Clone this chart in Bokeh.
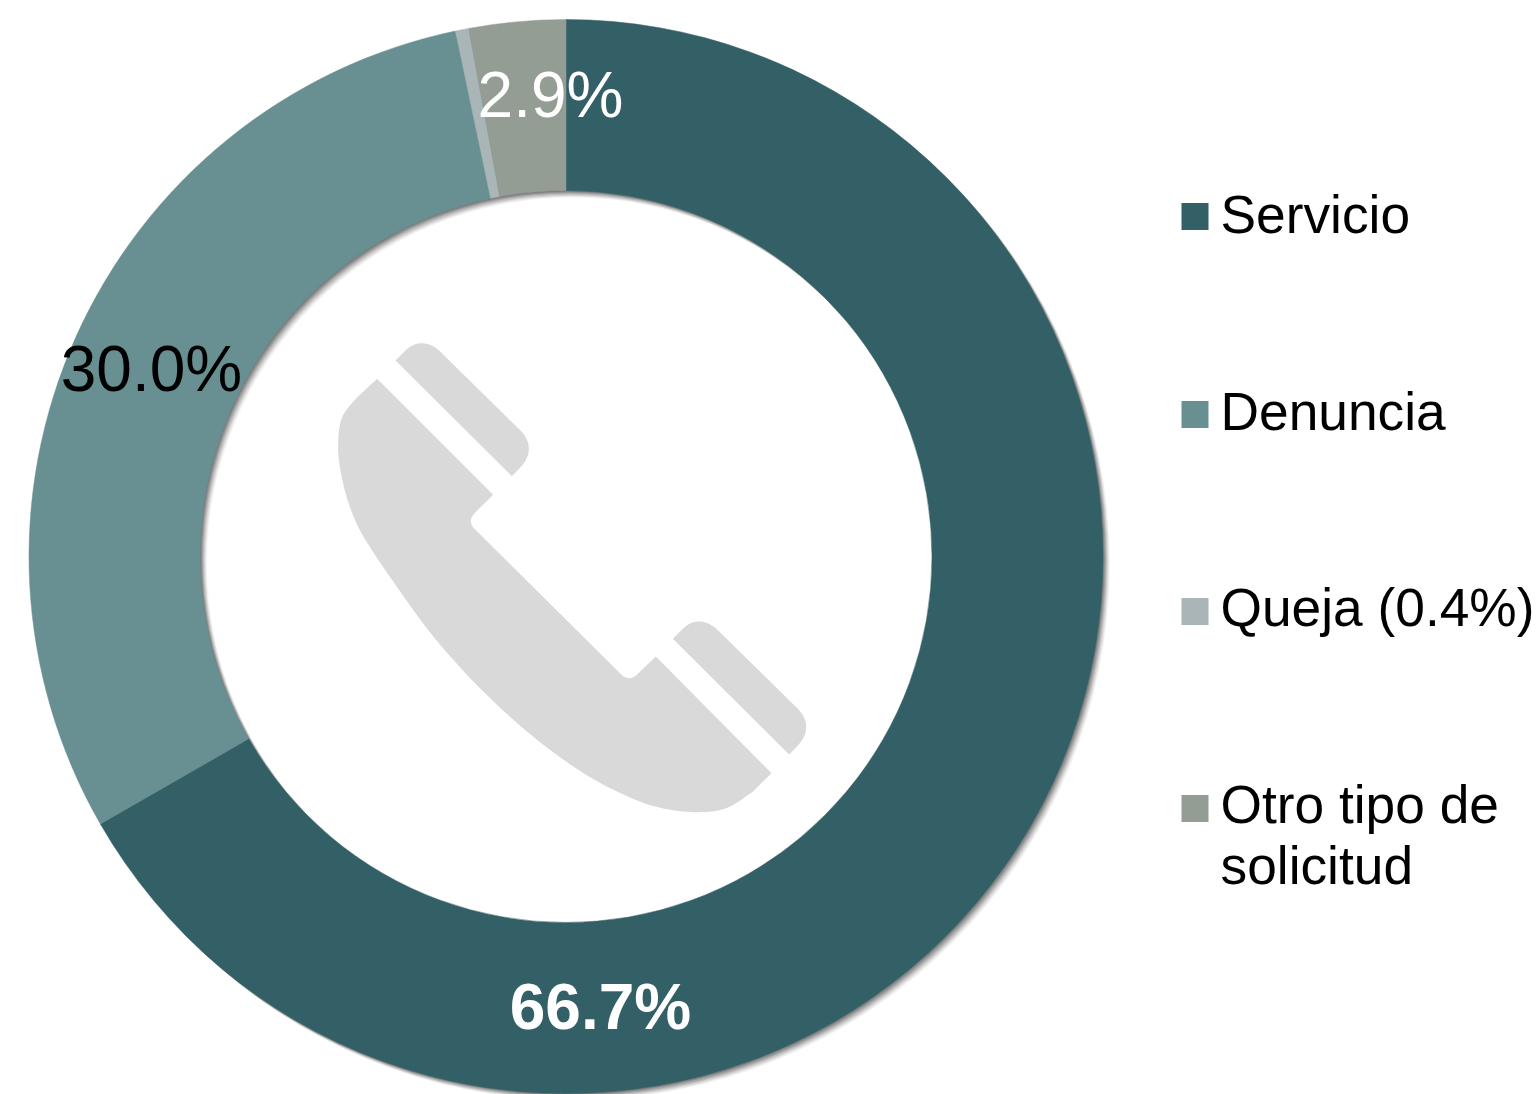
import math
from bokeh.core.properties import value
from bokeh.embed import file_html
from bokeh.models import ColumnDataSource, Range1d
from bokeh.plotting import figure
from bokeh.resources import INLINE

categories = ["Servicio", "Denuncia", "Queja (0.4%)", "Otro tipo de\nsolicitud"]
shares = [66.7, 30.0, 0.4, 2.9]
slice_labels = ["66.7%", "30.0%", "", "2.9%"]
colors = ["#336066", "#689092", "#A9B5B7", "#949D94"]

FONT = "Liberation Sans"
W, H = 1538, 1094
CX, CY = 565.5, 556
R_OUT, R_IN = 537, 366
LABEL_PX = 64
LEGEND_PX = 53.3
BASELINE_SHIFT = 0.37  # the text glyph sits this many em below its anchor


def Y(py):
    return H - py


p = figure(width=W, height=H, output_backend="svg", toolbar_location=None,
           x_range=Range1d(0, W), y_range=Range1d(0, H),
           min_border=0, outline_line_color=None, background_fill_color="white")
p.axis.visible = False
p.grid.visible = False

# soft drop shadow under the ring
for off, alpha in [(7, 0.04), (6, 0.06), (5, 0.08), (4, 0.10), (3, 0.12), (2, 0.14), (1, 0.12)]:
    p.annulus(x=[CX + off], y=[Y(CY + off)], inner_radius=R_IN, outer_radius=R_OUT,
              fill_color="#000000", fill_alpha=alpha, line_color=None)

# ring: clockwise from 12 o'clock
total = sum(shares)
starts, ends, acc = [], [], 0.0
for s in shares:
    a0 = math.pi / 2 - 2 * math.pi * acc / total
    acc += s
    a1 = math.pi / 2 - 2 * math.pi * acc / total
    starts.append(a1)
    ends.append(a0)
ring = ColumnDataSource(dict(start=starts, end=ends, color=colors))
p.annular_wedge(x=CX, y=Y(CY), inner_radius=R_IN, outer_radius=R_OUT, start_angle="start",
                end_angle="end", fill_color="color", line_color="color", line_width=0.5, source=ring)

# value labels
label_px = [(600, 1030), (151, 392), None, (550, 118)]
label_col = ["#FFFFFF", "#000000", "#000000", "#FFFFFF"]
label_style = ["bold", "normal", "normal", "normal"]
for t, pos, c, st in zip(slice_labels, label_px, label_col, label_style):
    if t:
        p.text(x=[pos[0]], y=[Y(pos[1] - BASELINE_SHIFT * LABEL_PX)], text=[t], text_color=c, text_font=value(FONT),
               text_font_size=f"{LABEL_PX}px", text_font_style=st, text_align="center", text_baseline="alphabetic")

# legend
LEG_Y = [216, 414, 611, 808]
LEG_TEXT_DY = [18, 17, 16, 16]
p.rect(x=[1194.5] * 4, y=[Y(v) for v in LEG_Y], width=27, height=27, fill_color=colors, line_color=None)
for cat, ly, dy in zip(categories, LEG_Y, LEG_TEXT_DY):
    for i, line in enumerate(cat.split("\n")):
        p.text(x=[1220], y=[Y(ly + dy + i * 61 - BASELINE_SHIFT * LEGEND_PX)], text=[line], text_color="#000000",
               text_font=value(FONT), text_font_size=f"{LEGEND_PX}px", text_align="left", text_baseline="alphabetic")


# telephone icon (decoration), traced in a 500-unit box placed at (320, 330)
def icon(zx, zy):
    return 320 + zx / 3, Y(330 + zy / 3)


def bez(a, c, b, n=12):
    return [((1 - t) ** 2 * a[0] + 2 * t * (1 - t) * c[0] + t * t * b[0],
             (1 - t) ** 2 * a[1] + 2 * t * (1 - t) * c[1] + t * t * b[1])
            for t in [k / n for k in range(n + 1)]]


def spline(pts, n=10):
    out = []
    ext = [pts[0]] + pts + [pts[-1]]
    for i in range(1, len(ext) - 2):
        a, b, c, d = ext[i - 1], ext[i], ext[i + 1], ext[i + 2]
        for k in range(n):
            t = k / n
            out.append(tuple(0.5 * (2 * b[j] + (c[j] - a[j]) * t + (2 * a[j] - 5 * b[j] + 4 * c[j] - d[j]) * t * t
                                    + (3 * b[j] - a[j] - 3 * c[j] + d[j]) * t ** 3) for j in (0, 1)))
    out.append(pts[-1])
    return out


body = [(170, 145), (518, 493), (465, 545)]
body += bez((465, 545), (437, 572), (465, 598))
body += [(900, 1030)]
body += bez((900, 1030), (927, 1056), (952, 1030))
body += [(1006, 978), (1353, 1328)]
body += spline([(1295, 1385), (1220, 1432), (1140, 1445), (1050, 1438), (950, 1410), (800, 1335), (640, 1220),
                (480, 1075), (340, 920), (230, 770), (130, 620), (85, 520), (60, 420), (53, 340), (65, 260),
                (110, 200)])
pad = [(225, 90), (250, 65)]
pad += bez((250, 65), (275, 38), (303, 38))
pad += bez((303, 38), (332, 38), (358, 62))
pad += [(600, 300)]
pad += bez((600, 300), (625, 325), (625, 355))
pad += bez((625, 355), (625, 383), (600, 410))
pad += [(574, 437)]
pad2 = [(x + 832, y + 835) for x, y in pad]
for shape in (body, pad, pad2):
    xy = [icon(*q) for q in shape]
    p.patch([q[0] for q in xy], [q[1] for q in xy], fill_color="#D9D9D9", line_color=None)

open("out.html", "w").write(file_html(p, INLINE))
